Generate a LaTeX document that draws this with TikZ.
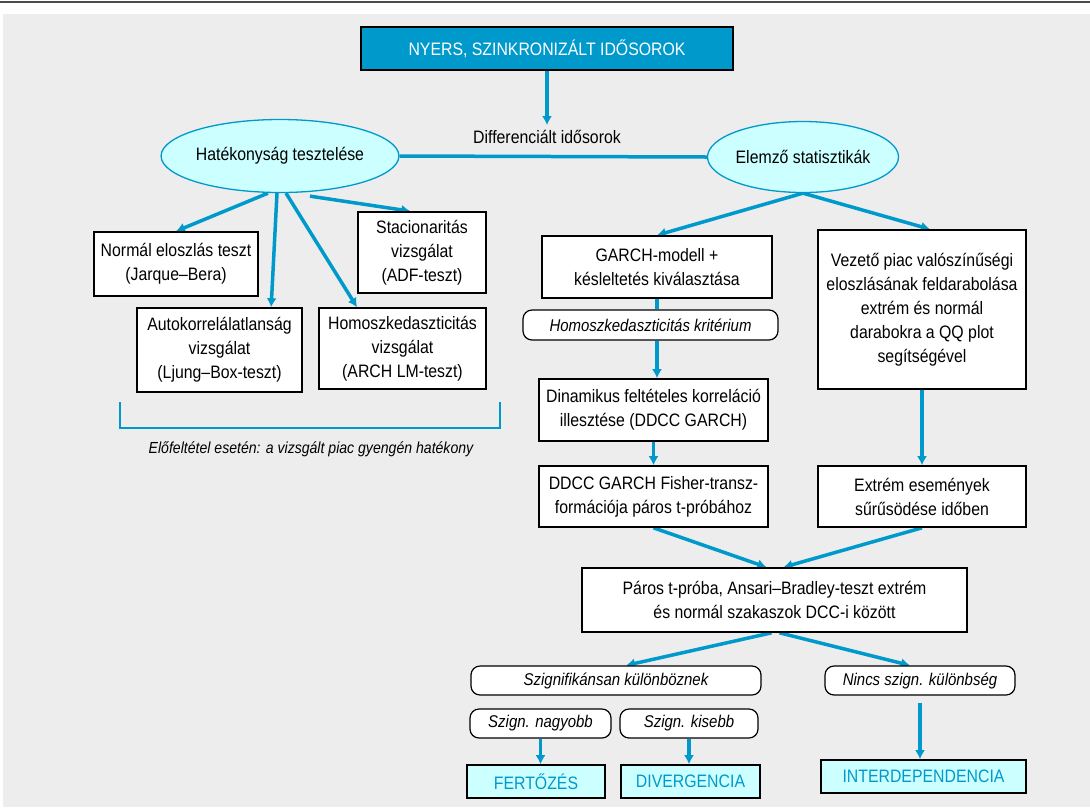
\documentclass[tikz,border=0pt]{standalone}
\usepackage{fontspec}
\setmainfont{Liberation Sans}[FakeStretch=0.88]
\usetikzlibrary{arrows.meta,calc,shapes.geometric}
\definecolor{cblue}{RGB}{0,153,204}
\definecolor{ccyan}{RGB}{204,255,255}
\definecolor{cbg}{RGB}{237,237,237}
\pgfdeclarelayer{bg}\pgfdeclarelayer{conn}
\pgfsetlayers{bg,conn,main}
\tikzset{
 txt/.style={font=\fontsize{18}{24}\selectfont, align=center, inner sep=0pt},
 box/.style={txt, draw=black, line width=1.6pt, fill=white},
 ell/.style={txt, ellipse, draw=cblue, line width=1.3pt, fill=ccyan},
 scroll/.style={txt, font=\fontsize{17}{22}\selectfont\itshape, draw=black, line width=1.2pt, fill=white, rounded corners=9pt},
 result/.style={txt, draw=black, line width=1.6pt, fill=ccyan, text=cblue},
 conn/.style={draw=cblue, line width=3.5pt},
 arr/.style={conn, -{Latex[length=9pt,width=10pt]}},
 brace/.style={draw=cblue, line width=2pt},
}
\begin{document}
\begin{tikzpicture}[x=1pt,y=-1pt]
\useasboundingbox (0,0) rectangle (1090,807);
\begin{pgfonlayer}{bg}
\fill[white] (0,0) rectangle (1090,807);
\fill[cbg] (3,14) rectangle (1090,807);
\draw[line width=1.5pt, black!70] (0,2) -- (1090,2);
\end{pgfonlayer}

% nodes
\node[box, fill=cblue, text=white, line width=2.5pt, minimum width=372pt, minimum height=43pt] (title) at (547,48.5) {NYERS, SZINKRONIZÁLT IDŐSOROK};
\node[txt] (diff) at (547,137) {Differenciált idősorok};
\node[ell, minimum width=189pt, minimum height=73pt] (hat) at (280,156) {Hatékonyság tesztelése};
\node[ell, minimum width=191pt, minimum height=71pt] (elem) at (803,157) {Elemző statisztikák};

\node[box, minimum width=164pt, minimum height=64pt] (normal) at (176,264) {Normál eloszlás teszt\\(Jarque–Bera)};
\node[box, minimum width=128pt, minimum height=81pt] (stac) at (422,252.5) {Stacionaritás\\vizsgálat\\(ADF-teszt)};
\node[box, minimum width=165pt, minimum height=84pt] (auto) at (219.5,350) {Autokorrelálatlanság\\vizsgálat\\(Ljung–Box-teszt)};
\node[box, minimum width=167pt, minimum height=81pt] (homo) at (402.5,348.5) {Homoszkedaszticitás\\vizsgálat\\(ARCH LM-teszt)};
\node[txt, font=\fontsize{16}{18}\selectfont\itshape] (note) at (311,449) {Előfeltétel esetén: a vizsgált piac gyengén hatékony};

\node[box, minimum width=230pt, minimum height=62pt] (garch) at (657,267) {GARCH-modell +\\késleltetés kiválasztása};
\node[scroll, minimum width=255pt, minimum height=30pt] (homcrit) at (650.5,325) {Homoszkedaszticitás kritérium};
\node[box, minimum width=229pt, minimum height=62pt] (dinam) at (653.5,410) {Dinamikus feltételes korreláció\\illesztése (DDCC GARCH)};
\node[box, minimum width=229pt, minimum height=61pt] (ddcc) at (653.5,496.5) {DDCC GARCH Fisher-transz-\\formációja páros t-próbához};
\node[box, minimum width=208pt, minimum height=159pt] (vez) at (922,309.5) {Vezető piac valószínűségi\\eloszlásának feldarabolása\\extrém és normál\\darabokra a QQ plot\\segítségével};
\node[box, minimum width=208pt, minimum height=61pt] (extr) at (922,496.5) {Extrém események\\sűrűsödése időben};

\node[box, minimum width=385pt, minimum height=64pt] (paros) at (774.5,600) {Páros t-próba, Ansari–Bradley-teszt extrém\\és normál szakaszok DCC-i között};
\node[scroll, minimum width=290pt, minimum height=29pt] (szign) at (616,680.5) {Szignifikánsan különböznek};
\node[scroll, minimum width=190pt, minimum height=29pt] (nincs) at (920,680.5) {Nincs szign. különbség};
\node[scroll, minimum width=141pt, minimum height=29pt] (nagy) at (540.5,723.5) {Szign. nagyobb};
\node[scroll, minimum width=138pt, minimum height=29pt] (kis) at (689,723.5) {Szign. kisebb};
\node[result, minimum width=138pt, minimum height=33pt] (fert) at (536,781.5) {FERTŐZÉS};
\node[result, minimum width=139pt, minimum height=33pt] (div) at (690.5,781.5) {DIVERGENCIA};
\node[result, minimum width=205pt, minimum height=33pt] (inter) at (923.5,776.5) {INTERDEPENDENCIA};

% connectors
\begin{pgfonlayer}{conn}
\draw[arr] (title.south) -- ([yshift=5pt]diff.north);
\draw[conn] (hat.east) -- (elem.west);
\draw[arr] ([xshift=-12pt]hat.south) -- (normal.north);
\draw[arr] ([xshift=-3pt]hat.south) -- ($(auto.north west)!0.81!(auto.north east)$);
\draw[arr] ([xshift=6pt]hat.south) -- ($(homo.north west)!0.23!(homo.north east)$);
\draw[arr] ([xshift=30pt,yshift=-3pt]hat.south) -- ($(stac.north west)!0.41!(stac.north east)$);
\draw[brace] (120,402) -- (120,428) -- (500,428) -- (500,402);

\draw[arr] (elem.south) -- (garch.north);
\draw[arr] (elem.south) -- ([xshift=8pt]vez.north);
\draw[conn] (garch.south) -- (garch.south |- homcrit.north);
\draw[arr] (garch.south |- homcrit.south) -- (garch.south |- dinam.north);
\draw[arr] (dinam.south) -- (ddcc.north);
\draw[arr] (vez.south) -- (extr.north);
\draw[arr] (ddcc.south) -- ([xshift=-8pt]paros.north);
\draw[arr] (extr.south) -- ([xshift=9pt]paros.north);
\draw[arr] ([xshift=-3pt]paros.south) -- ([xshift=10pt]szign.north);
\draw[arr] ([xshift=5pt]paros.south) -- ([xshift=-10pt]nincs.north);
\draw[arr] (nagy.south) -- (nagy.south |- fert.north);
\draw[arr] (kis.south) -- (kis.south |- div.north);
\draw[arr] ([yshift=-7pt]nincs.south) -- (nincs.south |- inter.north);
\end{pgfonlayer}
\end{tikzpicture}
\end{document}
